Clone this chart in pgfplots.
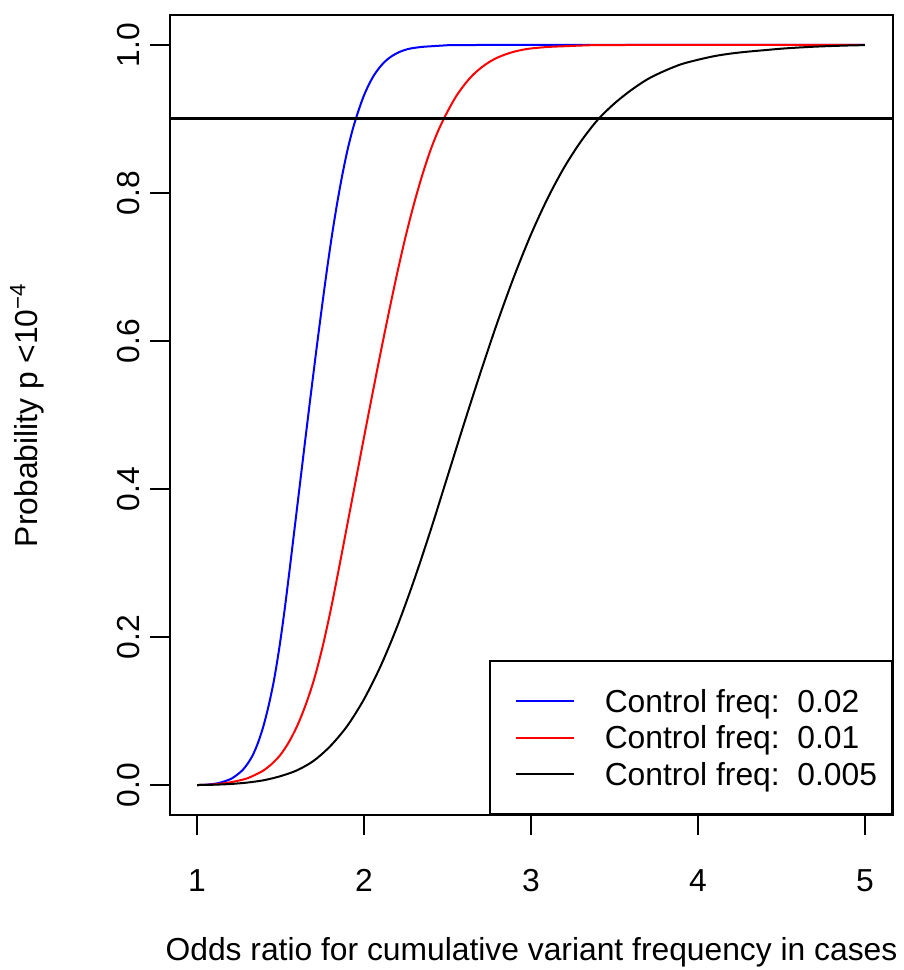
\documentclass[border=0pt]{standalone}
\usepackage{fontspec}
\setmainfont{Liberation Sans}
\usepackage{pgfplots}
\pgfplotsset{compat=1.18}
\begin{document}
\fontsize{15.9}{19}\selectfont
\begin{tikzpicture}
\useasboundingbox (-85pt,-77.5pt) rectangle (367pt,407.5pt);
\begin{axis}[
  at={(0,0)}, anchor=south west,
  scale only axis, width=361.5pt, height=400pt,
  xmin=0.838, xmax=5.168, ymin=-0.0405, ymax=1.0405,
  xtick={1,2,3,4,5}, ytick={0,0.2,0.4,0.6,0.8,1.0},
  tick pos=left, tick align=outside,
  major tick length=10pt,
  every tick/.style={black, line width=1pt},
  axis line style={line width=1pt},
  /pgf/number format/assume math mode=true,
  font=\fontsize{15.9}{19}\selectfont,
  xticklabel style={inner sep=0pt, text height=11.4pt, text depth=0pt},
  xticklabel shift=16.5pt,
  yticklabel style={rotate=90, anchor=south, inner sep=0pt, text height=11.4pt, text depth=0pt,
    /pgf/number format/fixed, /pgf/number format/fixed zerofill, /pgf/number format/precision=1},
  yticklabel shift=5.25pt,
  every axis x label/.style={at={(axis description cs:0.5,0)}, anchor=north, yshift=-61pt, inner sep=0pt},
  every axis y label/.style={at={(axis description cs:-0.1729,0.5)}, rotate=90, anchor=south, inner sep=0pt},
  xlabel={Odds ratio for cumulative variant frequency in cases},
  ylabel={Probability p <10\textsuperscript{−4}},
  legend cell align=left,
  legend image code/.code={\path (0pt,0pt) (34pt,0pt); \draw[#1] (5pt,0pt) -- (34pt,0pt);},
  legend style={at={(rel axis cs:1,0)}, anchor=south east, draw=black, line width=1pt,
    inner xsep=7.5pt, inner ysep=14.25pt, row sep=6.9pt, column sep=15pt,
    font=\fontsize{15.9}{19}\selectfont,
    nodes={inner sep=0pt, text height=11.4pt, text depth=0pt}},
]
\addplot[blue, line width=1pt, smooth] coordinates {
(1.0,0) (1.05,0.0004) (1.1145,0.002) (1.146,0.0037) (1.1775,0.006) (1.209,0.009) (1.2405,0.014)
(1.272,0.020) (1.3035,0.029) (1.335,0.041) (1.3665,0.058) (1.398,0.080) (1.4295,0.108) (1.461,0.142)
(1.4925,0.185) (1.524,0.236) (1.5555,0.293) (1.587,0.352) (1.6185,0.411) (1.65,0.470) (1.6815,0.528)
(1.713,0.585) (1.7445,0.640) (1.776,0.693) (1.8075,0.742) (1.839,0.786) (1.8705,0.825) (1.902,0.859)
(1.9335,0.887) (1.965,0.910) (1.9965,0.930) (2.028,0.946) (2.0595,0.959) (2.091,0.969) (2.1225,0.977)
(2.154,0.983) (2.1855,0.9875) (2.217,0.991) (2.2485,0.9935) (2.28,0.9953) (2.343,0.9973) (2.406,0.9983)
(2.469,0.9992) (2.532,0.9998) (2.8,1.0) (3.5,1.0) (5.0,1.0)};
\addlegendentry{Control freq:\ \ 0.02}
\addplot[red, line width=1pt, smooth] coordinates {
(1.0,0) (1.05,0.0002) (1.10,0.0008) (1.15,0.002) (1.20,0.0037) (1.25,0.006) (1.30,0.009) (1.35,0.014)
(1.40,0.020) (1.45,0.029) (1.50,0.041) (1.55,0.058) (1.60,0.080) (1.65,0.108) (1.70,0.142) (1.75,0.185)
(1.80,0.236) (1.85,0.293) (1.90,0.352) (1.95,0.411) (2.00,0.470) (2.05,0.528) (2.10,0.585) (2.15,0.640)
(2.20,0.693) (2.25,0.742) (2.30,0.786) (2.35,0.825) (2.40,0.859) (2.45,0.887) (2.50,0.910) (2.55,0.930)
(2.60,0.946) (2.65,0.959) (2.70,0.969) (2.75,0.977) (2.80,0.983) (2.85,0.9875) (2.90,0.991) (2.95,0.9935)
(3.00,0.9953) (3.10,0.9973) (3.20,0.9983) (3.30,0.9992) (3.40,0.9998) (3.7,1.0) (4.3,1.0) (5.0,1.0)};
\addlegendentry{Control freq:\ \ 0.01}
\addplot[black, line width=1pt, smooth] coordinates {
(1.0,0) (1.1,0.0004) (1.2,0.0014) (1.3,0.0033) (1.4,0.0065) (1.5,0.012) (1.6,0.020) (1.7,0.033)
(1.8,0.053) (1.9,0.080) (2.0,0.116) (2.1,0.161) (2.2,0.215) (2.3,0.277) (2.4,0.345) (2.5,0.417)
(2.6,0.489) (2.7,0.559) (2.8,0.626) (2.9,0.688) (3.0,0.744) (3.1,0.793) (3.2,0.835) (3.3,0.870)
(3.4,0.899) (3.5,0.921) (3.6,0.939) (3.7,0.954) (3.8,0.965) (3.9,0.974) (4.0,0.980) (4.1,0.985)
(4.2,0.9885) (4.3,0.991) (4.4,0.993) (4.5,0.995) (4.6,0.9965) (4.7,0.9977) (4.8,0.9986) (4.9,0.9993)
(5.0,0.9998)};
\addlegendentry{Control freq:\ \ 0.005}
\addplot[black, line width=1.5pt, forget plot] coordinates {(0.838,0.9) (5.168,0.9)};
\end{axis}
\end{tikzpicture}
\end{document}
